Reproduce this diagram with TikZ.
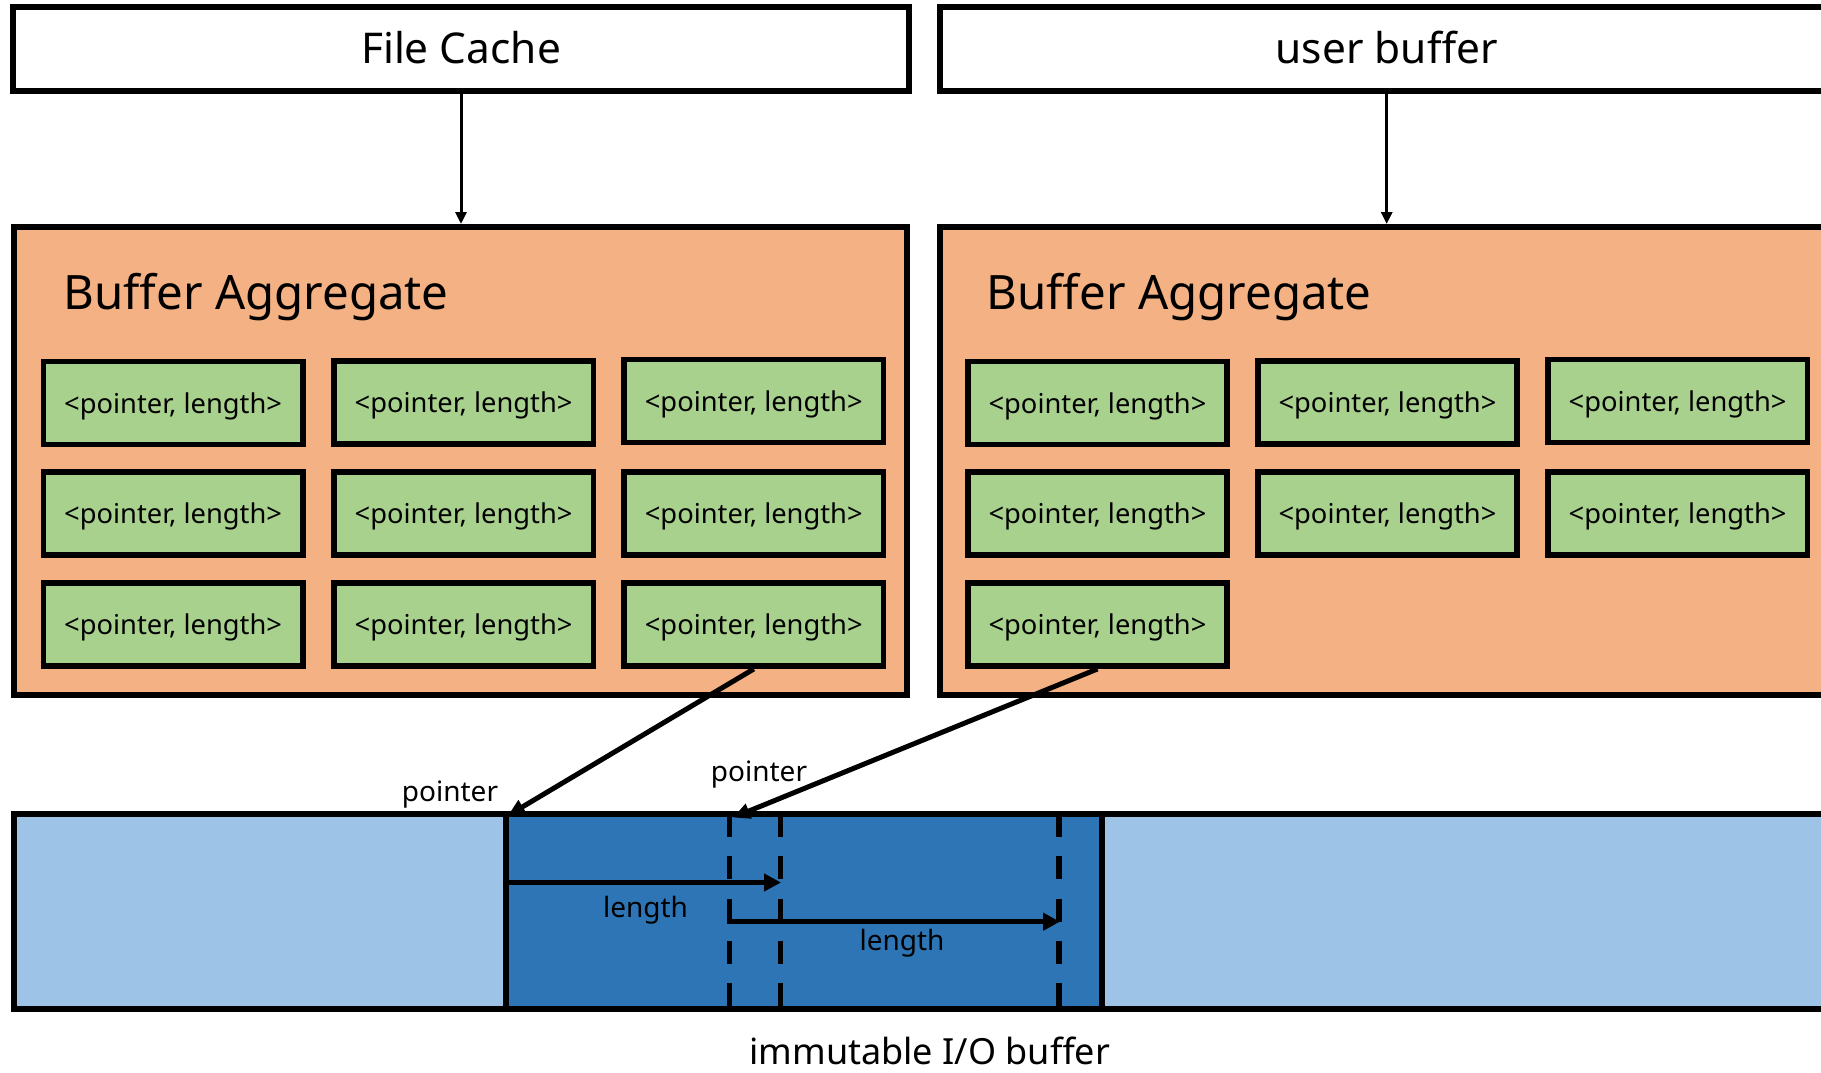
\documentclass[tikz,border=0pt]{standalone}
\usepackage{fontspec}
\setmainfont{Noto Sans}
\usetikzlibrary{arrows.meta}
\definecolor{aggorange}{HTML}{F4B183}
\definecolor{pairgreen}{HTML}{A9D18E}
\definecolor{lightblue}{HTML}{9DC3E6}
\definecolor{darkblue}{HTML}{2E75B6}
\newcommand{\fsz}[1]{\fontsize{#1}{#1}\selectfont}
\tikzset{
  topbox/.style={draw, line width=6pt, fill=white, minimum height=83.7pt, inner sep=0pt,
    text height=31.2pt, text depth=1pt, font=\fsz{42.4pt}},
  aggbox/.style={draw, line width=6pt, fill=aggorange, minimum height=468pt, inner sep=0pt},
  aggtitle/.style={anchor=base west, inner sep=0pt, font=\fsz{47.4pt}},
  pairbox/.style={draw, line width=5.5pt, fill=pairgreen, minimum width=259.4pt, minimum height=83pt,
    inner sep=0pt, text height=22pt, text depth=2pt, font=\fsz{27.3pt}},
  barbox/.style={draw, line width=6pt, minimum height=195pt, inner sep=0pt},
  lbl/.style={anchor=base, inner sep=0pt, font=\fsz{28pt}},
  caption/.style={anchor=base, inner sep=0pt, text depth=0pt, font=\fsz{36pt}},
  thinarr/.style={line width=3pt, -{Triangle[length=12pt,width=11pt]}},
  ptrarr/.style={line width=5pt, -{Triangle[length=17pt,width=15pt]}},
  lenarr/.style={line width=5pt, -{Triangle[length=17pt,width=17pt]}},
  dashline/.style={line width=5.5pt, dash pattern=on 23pt off 19.3pt},
}
\begin{document}
\begin{tikzpicture}[x=1pt,y=-1pt]
\useasboundingbox (0,0) rectangle (1821,1073);
\clip (0,0) rectangle (1821,1073);

% top boxes
\node[topbox, minimum width=896pt] (fc) at (461,48.85) {File Cache};
\node[topbox, minimum width=893.4pt] (ub) at (1386.7,48.85) {user buffer};

% aggregates
\node[aggbox, minimum width=893pt] (ba1) at (460.5,461) {};
\node[aggbox, minimum width=900pt] (ba2) at (1390,461) {};
\node[aggtitle] (t1) at (63.5,309.3) {Buffer Aggregate};
\node[aggtitle] (t2) at (986.5,309.3) {Buffer Aggregate};

% left pairs
\node[pairbox] (g11) at (173.1,403.2) {<pointer, length>};
\node[pairbox] (g12) at (463.6,402.5) {<pointer, length>};
\node[pairbox] (g13) at (753.8,401) {<pointer, length>};
\node[pairbox] (g21) at (173.1,513.5) {<pointer, length>};
\node[pairbox] (g22) at (463.6,513.5) {<pointer, length>};
\node[pairbox] (g23) at (753.8,513.5) {<pointer, length>};
\node[pairbox] (g31) at (173.1,624.7) {<pointer, length>};
\node[pairbox] (g32) at (463.6,624.7) {<pointer, length>};
\node[pairbox] (g33) at (753.8,624.7) {<pointer, length>};

% right pairs
\node[pairbox] (h11) at (1097.5,403.2) {<pointer, length>};
\node[pairbox] (h12) at (1387.5,402.5) {<pointer, length>};
\node[pairbox] (h13) at (1677.6,401) {<pointer, length>};
\node[pairbox] (h21) at (1097.5,513.5) {<pointer, length>};
\node[pairbox] (h22) at (1387.5,513.5) {<pointer, length>};
\node[pairbox] (h23) at (1677.6,513.5) {<pointer, length>};
\node[pairbox] (h31) at (1097.5,624.7) {<pointer, length>};

% top arrows
\draw[thinarr] (fc.south) -- (fc.south |- ba1.north);
\draw[thinarr] (ub.south) -- (ub.south |- ba2.north);

% I/O buffer
\node[barbox, fill=lightblue, minimum width=1826pt] (lbar) at (927,911.5) {};
\node[barbox, fill=darkblue, minimum width=596.5pt] (dbar) at (803.75,911.5) {};

\coordinate (d1t) at (729.7,814); \coordinate (d1b) at (729.7,1009);
\coordinate (d2t) at (780.5,814); \coordinate (d2b) at (780.5,1009);
\coordinate (d3t) at (1059.2,814); \coordinate (d3b) at (1059.2,1009);
\draw[dashline] (d1t) -- (d1b);
\draw[dashline] (d2t) -- (d2b);
\draw[dashline] (d3t) -- (d3b);

\coordinate (l1s) at (505.5,882.5); \coordinate (l1e) at (781,882.5);
\coordinate (l2s) at (727.2,921.7); \coordinate (l2e) at (1060,921.7);
\draw[lenarr] (l1s) -- (l1e);
\draw[lenarr] (l2s) -- (l2e);
\node[lbl] (len1) at (645.5,917.3) {length};
\node[lbl] (len2) at (902,950) {length};

% pointer arrows
\coordinate (pA) at (508,815.5);
\coordinate (pB) at (733,817.5);
\draw[ptrarr] (g33.south) -- (pA);
\draw[ptrarr] (h31.south) -- (pB);
\node[lbl] (ptr1) at (450,801.7) {pointer};
\node[lbl] (ptr2) at (759,781.7) {pointer};

\node[caption] (cap) at (929.7,1064.8) {immutable I/O buffer};
\end{tikzpicture}
\end{document}
